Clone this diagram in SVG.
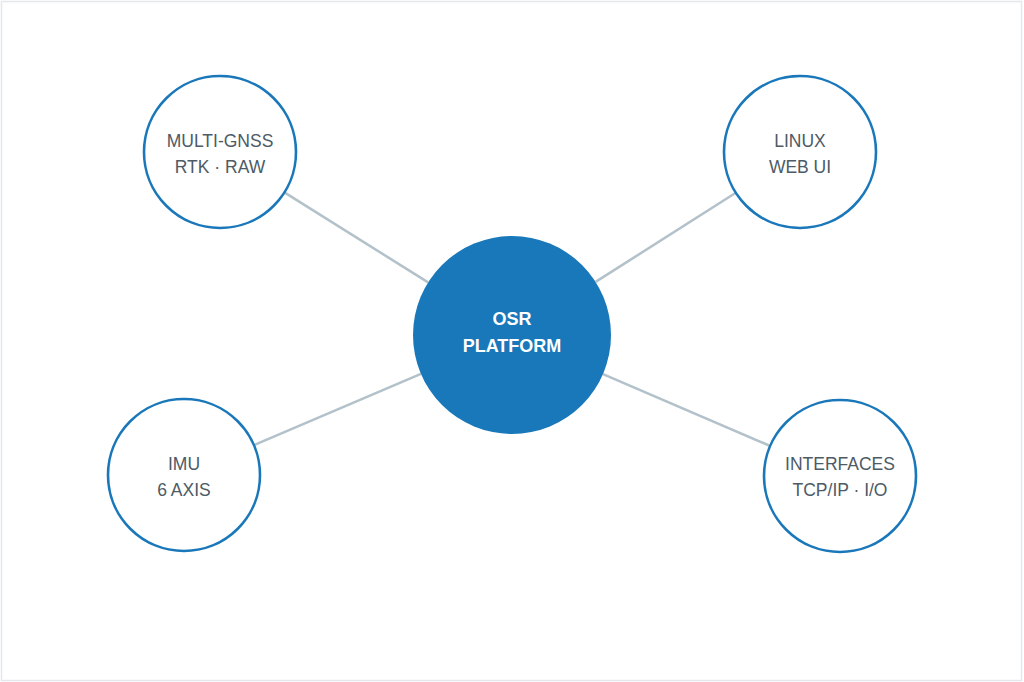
<svg xmlns="http://www.w3.org/2000/svg" width="1024" height="682" viewBox="0 0 1024 682">
  <style>
    .sat { fill: #ffffff; stroke: #1a78ba; stroke-width: 2.6; }
    .hub { fill: #1878b9; }
    .lbl { font-family: "Liberation Sans", Arial, sans-serif; font-size: 17.5px; fill: #4d5b66; text-anchor: middle; }
    .hubl { font-family: "Liberation Sans", Arial, sans-serif; font-size: 18px; font-weight: bold; fill: #ffffff; text-anchor: middle; }
    .conn { stroke: #b3c1ca; stroke-width: 2.5; fill: none; }
  </style>
  <rect x="0" y="0" width="1024" height="682" fill="#ffffff"/>
  <rect x="1.5" y="1.5" width="1020" height="679" fill="none" stroke="#e4e8ec" stroke-width="1.5"/>
  <g id="connectors">
    <line class="conn" x1="284.4" y1="192.4" x2="428.1" y2="282.4"/>
    <line class="conn" x1="735.8" y1="192.8" x2="595.6" y2="281.9"/>
    <line class="conn" x1="253.9" y1="445.2" x2="420.9" y2="373.9"/>
    <line class="conn" x1="770.2" y1="446" x2="603" y2="374.1"/>
  </g>
  <g id="hub">
    <circle class="hub" cx="512" cy="335" r="99"/>
    <text class="hubl" x="512" y="325">OSR</text>
    <text class="hubl" x="512" y="352">PLATFORM</text>
  </g>
  <g id="gnss">
    <circle class="sat" cx="220" cy="152" r="76"/>
    <text class="lbl" x="220" y="147">MULTI-GNSS</text>
    <text class="lbl" x="220" y="173">RTK · RAW</text>
  </g>
  <g id="linux">
    <circle class="sat" cx="800" cy="152" r="76"/>
    <text class="lbl" x="800" y="147">LINUX</text>
    <text class="lbl" x="800" y="173">WEB UI</text>
  </g>
  <g id="imu">
    <circle class="sat" cx="184" cy="475" r="76"/>
    <text class="lbl" x="184" y="470">IMU</text>
    <text class="lbl" x="184" y="496">6 AXIS</text>
  </g>
  <g id="interfaces">
    <circle class="sat" cx="840" cy="476" r="76"/>
    <text class="lbl" x="840" y="470">INTERFACES</text>
    <text class="lbl" x="840" y="496">TCP/IP · I/O</text>
  </g>
</svg>
